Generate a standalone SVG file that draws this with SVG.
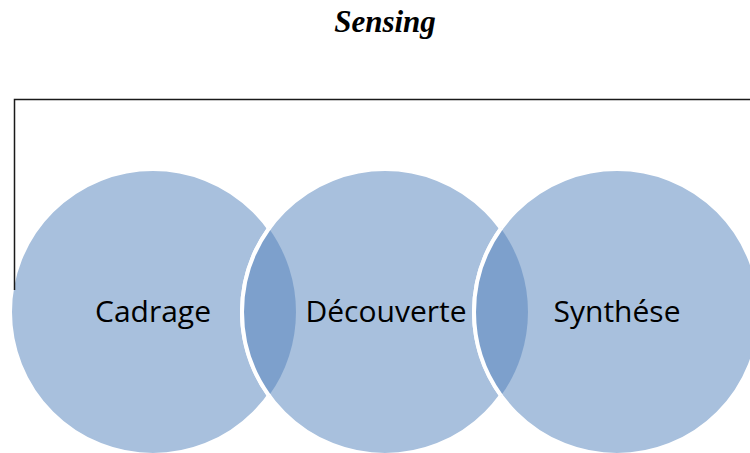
<svg xmlns="http://www.w3.org/2000/svg" width="750" height="453" viewBox="0 0 750 453">
<style>
.c{fill:#A8C0DD;stroke:#FFFFFF;stroke-width:4}
.lens{fill:#7DA0CC;stroke:none}
.edge{fill:none;stroke:#FFFFFF;stroke-width:4}
.lbl{font-family:"Open Sans","Noto Sans",sans-serif;font-size:30px;fill:#000;text-anchor:middle}
.title{font-family:"Liberation Serif","Times New Roman",serif;font-size:31px;font-weight:bold;font-style:italic;fill:#000;text-anchor:middle}
</style>
<rect width="750" height="453" fill="#FFFFFF"/>
<text class="title" x="385" y="32">Sensing</text>
<g id="cadrage">
<circle class="c" cx="153" cy="312" r="143"/>
</g>
<g id="decouverte">
<circle class="c" cx="385" cy="312" r="143"/>
</g>
<g id="synthese">
<circle class="c" cx="617" cy="312" r="143"/>
</g>
<g id="overlaps">
<path class="lens" d="M269 228.4 A143 143 0 0 1 269 395.6 A143 143 0 0 1 269 228.4 Z"/>
<path class="lens" d="M501 228.4 A143 143 0 0 1 501 395.6 A143 143 0 0 1 501 228.4 Z"/>
<path class="edge" d="M269 228.4 A143 143 0 0 0 269 395.6"/>
<path class="edge" d="M501 228.4 A143 143 0 0 0 501 395.6"/>
</g>
<g id="connectors">
<path d="M14.5 290 V99.5 H750" fill="none" stroke="#1a1a1a" stroke-width="1.5"/>
</g>
<g id="labels">
<text class="lbl" x="153" y="322">Cadrage</text>
<text class="lbl" x="386" y="322">Découverte</text>
<text class="lbl" x="617" y="322">Synthése</text>
</g>
</svg>
